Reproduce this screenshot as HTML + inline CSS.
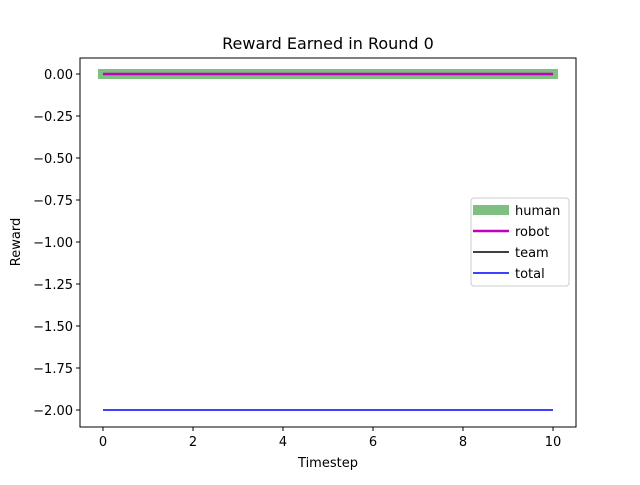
<!DOCTYPE html>
<html><head><meta charset="utf-8"><style>body{margin:0;background:#fff}svg{font-family:"DejaVu Sans","Liberation Sans",sans-serif}</style></head>
<body>
<svg id="c" width="640" height="480" xmlns="http://www.w3.org/2000/svg">
<rect width="640" height="480" fill="#fff"/>
<text x="328" y="49" font-size="16" text-anchor="middle">Reward Earned in Round 0</text>
<g id="ticks"></g>
<g id="series"></g>
<rect x="80" y="58" width="496" height="369" fill="none" stroke="#000" stroke-width="1"/>
<text x="328" y="467" font-size="13" text-anchor="middle">Timestep</text>
<text x="20" y="242" font-size="13" text-anchor="middle" transform="rotate(-90 20 242)">Reward</text>
<g id="legend"></g>
</svg>
<script>
const timesteps=[0,1,2,3,4,5,6,7,8,9,10];
const human=[0,0,0,0,0,0,0,0,0,0,0];
const robot=[0,0,0,0,0,0,0,0,0,0,0];
const team=[0,0,0,0,0,0,0,0,0,0,0];
const total=[-2,-2,-2,-2,-2,-2,-2,-2,-2,-2,-2];
const xTicks=[0,2,4,6,8,10];
const yTicks=[0,-0.25,-0.5,-0.75,-1,-1.25,-1.5,-1.75,-2];
const NS="http://www.w3.org/2000/svg";
const xs=v=>103+v*45;
const ys=v=>74-v*168;
function mk(t,a,p){const e=document.createElementNS(NS,t);for(const k in a)e.setAttribute(k,a[k]);p.appendChild(e);return e;}
const tg=document.getElementById('ticks');
xTicks.forEach(v=>{
 const l=mk('line',{x1:xs(v),x2:xs(v),y1:427,y2:431,stroke:'#000'},tg);
 
 
 const t=mk('text',{x:xs(v),y:446,'font-size':13,'text-anchor':'middle'},tg);t.textContent=v;
 
 
});
yTicks.forEach(v=>{
 const l=mk('line',{x1:76,x2:80,y1:ys(v),y2:ys(v),stroke:'#000'},tg);
 
 
 const t=mk('text',{x:73,y:ys(v)+5,'font-size':13,'text-anchor':'end'},tg);t.textContent=v.toFixed(2).replace('-','\u2212');
 
 
});
const sg=document.getElementById('series');
const defs=[['human',human,'#008000',10,0.5],['robot',robot,'#bf00bf',2.5,1],['team',team,'#000',1.5,1],['total',total,'#0000ff',1.5,1]];
[defs[0],defs[2],defs[1],defs[3]].forEach(([n,arr,c,w,o])=>{
 const p=mk('polyline',{points:arr.map((v,i)=>xs(timesteps[i])+','+ys(v)).join(' '),fill:'none',stroke:c,'stroke-width':w,'stroke-opacity':o,'stroke-linecap':n==='human'?'square':'butt'},sg);
 
 
});
const lg=document.getElementById('legend');
mk('rect',{x:471,y:198,width:98,height:88,rx:3,fill:'#fff','fill-opacity':0.8,stroke:'#ccc'},lg);
defs.forEach(([n,arr,c,w,o],i)=>{
 const y=210+i*21;
 const l=mk('line',{x1:473,x2:509,y1:y,y2:y,stroke:c,'stroke-width':w,'stroke-opacity':o},lg);
 
 
 const t=mk('text',{x:515,y:y+5,'font-size':13},lg);t.textContent=n;
 
 
});
</script>
</body></html>
